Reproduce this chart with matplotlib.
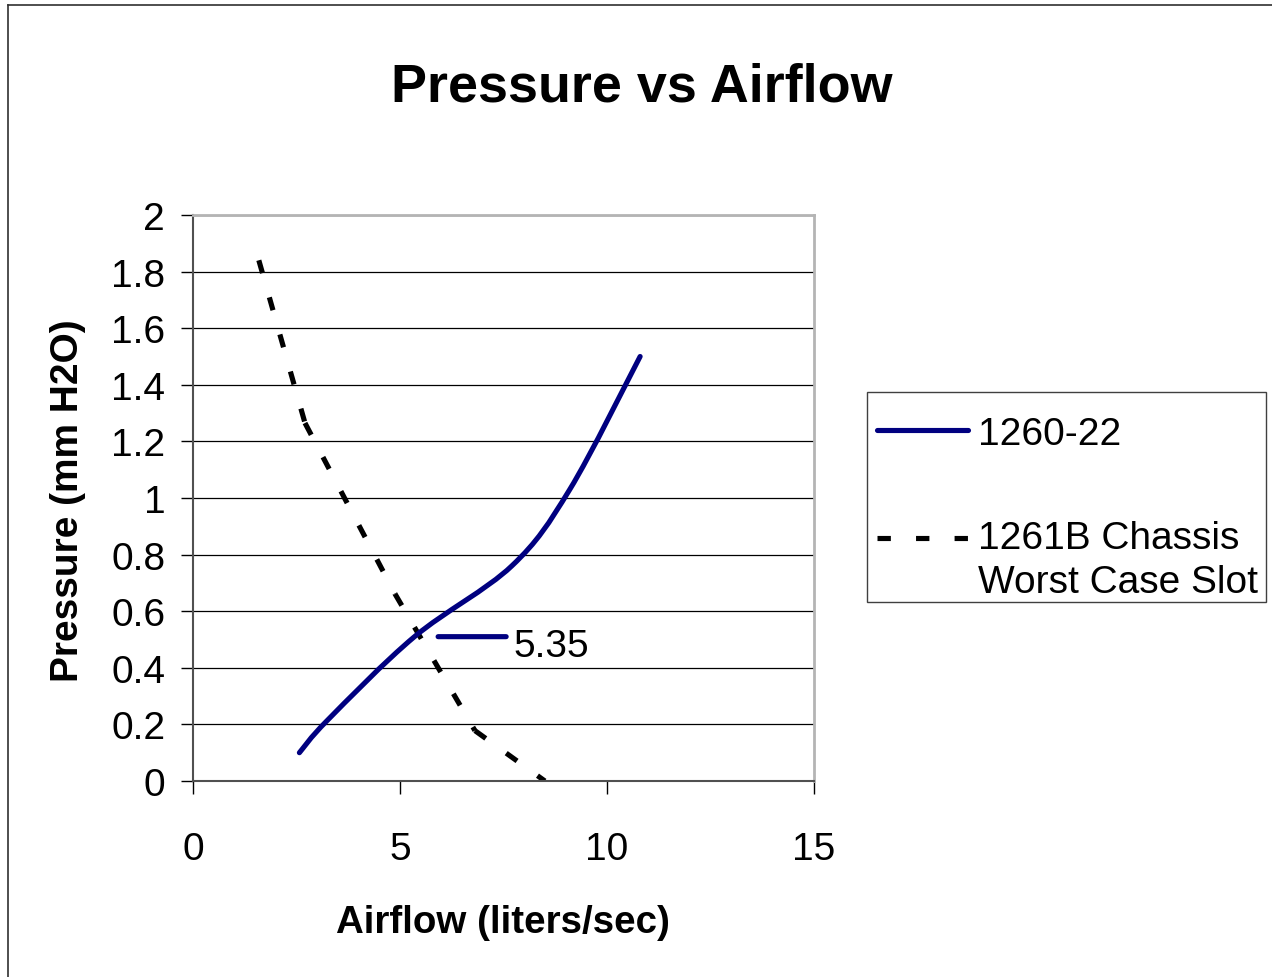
import matplotlib
matplotlib.use('Agg')
import numpy as np
import matplotlib.pyplot as plt
from matplotlib.lines import Line2D
from matplotlib.path import Path
from matplotlib.patches import PathPatch, Rectangle
from matplotlib.legend_handler import HandlerLine2D

plt.rcParams['font.family'] = ['Liberation Sans', 'DejaVu Sans']

# 1260-22 fan curve
fan_x = [2.57, 3.25, 5.35, 7.7, 9.1, 10.8]
fan_y = [0.10, 0.215, 0.51, 0.76, 1.03, 1.50]

# 1261B chassis impedance, worst case slot
slot_x = [1.59, 2.705, 4.88, 6.81, 8.50]
slot_y = [1.84, 1.265, 0.661, 0.178, 0.0]

labels = ['1260-22', '1261B Chassis\nWorst Case Slot']
point_label = 2  # index of the labelled point on the fan curve

NAVY = '#000080'
LW = 3.7
DASH = (2.6, 4.9)


def smooth_path(xs, ys):
    # catmull-rom through the points, as cubic bezier pieces
    p = np.column_stack([xs, ys])
    p = np.vstack([p[0], p, p[-1]])
    verts = [p[1]]
    codes = [Path.MOVETO]
    for i in range(1, len(p) - 2):
        c1 = p[i] + (p[i + 1] - p[i - 1]) / 6.0
        c2 = p[i + 1] - (p[i + 2] - p[i]) / 6.0
        verts += [c1, c2, p[i + 1]]
        codes += [Path.CURVE4] * 3
    return Path(verts, codes)


class FirstLineHandler(HandlerLine2D):
    # puts the key next to the first line of a two line label
    def __init__(self, shift, **kw):
        super().__init__(**kw)
        self.shift = shift

    def create_artists(self, legend, orig_handle, xdescent, ydescent, width,
                       height, fontsize, trans):
        arts = super().create_artists(legend, orig_handle, xdescent, ydescent,
                                      width, height, fontsize, trans)
        for a in arts:
            a.set_ydata(np.asarray(a.get_ydata()) + self.shift)
        return arts


fig = plt.figure(figsize=(12.72, 9.78), dpi=100)
ax = fig.add_axes([193/1272, 1-782/978, (814-193)/1272, (782-216)/978])

ax.add_patch(PathPatch(smooth_path(fan_x, fan_y), fill=False, edgecolor=NAVY,
                       lw=LW, capstyle='round', joinstyle='round', zorder=3))

# dash pattern starts over on every segment
for i in range(len(slot_x) - 1):
    ax.plot(slot_x[i:i + 2], slot_y[i:i + 2], color='black', lw=LW, dashes=DASH,
            dash_capstyle='butt', zorder=2)

# data label with legend key
px, py = fan_x[point_label], fan_y[point_label]
ax.annotate('', xy=(px, py), xytext=(66, 0), textcoords='offset points',
            arrowprops=dict(arrowstyle='-', color=NAVY, lw=LW,
                            shrinkA=0, shrinkB=17, capstyle='round'))
ax.annotate('%.2f' % px, xy=(px, py), xytext=(71, -7), textcoords='offset points',
            fontsize=28, va='center', ha='left')

ax.set_xlim(0, 15)
ax.set_ylim(0, 2)
ax.set_xticks([0, 5, 10, 15])
ax.set_yticks([0, 0.2, 0.4, 0.6, 0.8, 1, 1.2, 1.4, 1.6, 1.8, 2])
ax.set_yticklabels(['0', '0.2', '0.4', '0.6', '0.8', '1', '1.2', '1.4', '1.6', '1.8', '2'])
ax.yaxis.grid(True, color='black', lw=0.9)
ax.set_axisbelow(True)
ax.tick_params(axis='y', direction='out', length=9, width=1, pad=11, labelsize=28)
ax.tick_params(axis='x', direction='out', length=9, width=1, pad=27, labelsize=28)
for s in ['top', 'right']:
    ax.spines[s].set_color('#b4b4b4')
    ax.spines[s].set_linewidth(2)
for s in ['left', 'bottom']:
    ax.spines[s].set_color('#505050')
    ax.spines[s].set_linewidth(1.5)

fig.text(642/1272, 1-88/978, 'Pressure vs Airflow', fontsize=38.8, fontweight='bold',
         ha='center', va='center')
fig.text(503/1272, 1-923/978, 'Airflow (liters/sec)', fontsize=27.7, fontweight='bold',
         ha='center', va='center')
fig.text(68/1272, 1-501/978, 'Pressure (mm H2O)', fontsize=28, fontweight='bold',
         ha='center', va='center', rotation=90)

# legend
h_fan = Line2D([], [], color=NAVY, lw=LW, solid_capstyle='round')
h_slot = Line2D([], [], color='black', lw=LW, dashes=DASH, dash_capstyle='butt')
leg = fig.legend([h_fan, h_slot], labels, loc='upper left',
                 bbox_to_anchor=(877/1272, 1-417/978), fontsize=28,
                 frameon=False, handlelength=2.35, handletextpad=0.25,
                 borderpad=0, labelspacing=1.74, borderaxespad=0,
                 handler_map={h_slot: FirstLineHandler(16)})
for t in leg.get_texts():
    t.set_linespacing(1.31)
fig.add_artist(Rectangle((867/1272, 1-603/978), (1266-867)/1272, (603-393)/978,
                         transform=fig.transFigure, fill=False,
                         edgecolor='#404040', lw=1))

# outer border of the chart
fig.add_artist(Line2D([8/1272, 8/1272], [0, 1-6/978], color='#303030', lw=1.2))
fig.add_artist(Line2D([8/1272, 1], [1-6/978, 1-6/978], color='#303030', lw=1.2))

fig.savefig('out.png', dpi=100)
